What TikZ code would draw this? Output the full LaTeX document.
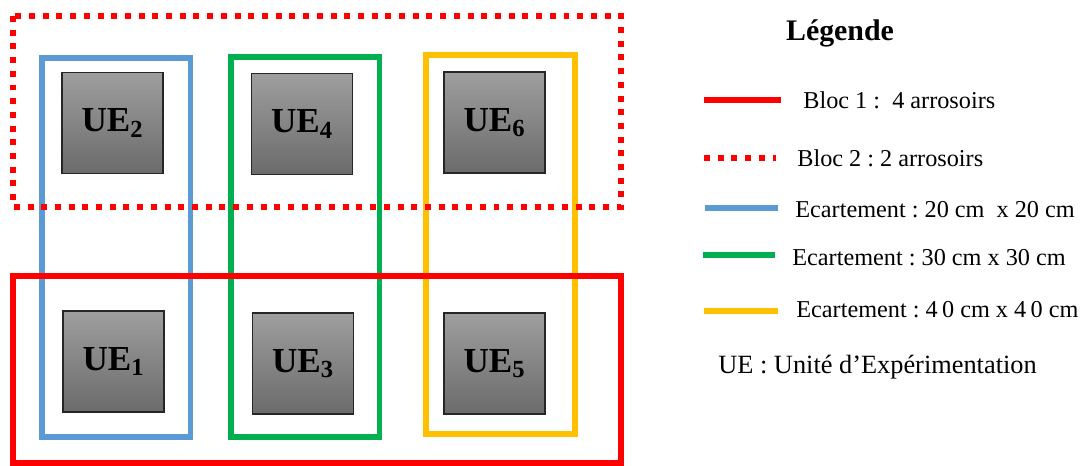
\documentclass[tikz,border=0pt]{standalone}
\usepackage{fontspec}
\setmainfont{Liberation Serif}
\usetikzlibrary{positioning}
\definecolor{rouge}{HTML}{FF0000}
\definecolor{bleu}{HTML}{5B9BD5}
\definecolor{vert}{HTML}{00B050}
\definecolor{jaune}{HTML}{FFC000}
\frenchspacing

\begin{document}
\begin{tikzpicture}[
		x=0.02cm,
		y=-0.02cm,
		ue/.style={draw=black!85,line width=0.8pt,top color=black!38,bottom color=black!58,
			minimum size=2.02cm,inner sep=0pt,font=\fontsize{20}{24}\selectfont\bfseries},
		bloc/.style={draw=rouge,line width=3.4pt},
		bloc dots/.style={bloc,dash pattern=on 3.4pt off 4.4pt},
		ecart/.style={line width=3.4pt},
		leg/.style={anchor=west,inner sep=0pt,font=\fontsize{13.8}{17}\selectfont}]

	\useasboundingbox (0,0) rectangle (1083,466);

	% unites d'experimentation
	\node[ue] (ue2) at (112.5,123) {\raisebox{-3pt}{UE\textsubscript{2}}};
	\node[ue] (ue4) at (302,124) {\raisebox{-3pt}{UE\textsubscript{4}}};
	\node[ue] (ue6) at (494.5,122.5) {\raisebox{-3pt}{UE\textsubscript{6}}};
	\node[ue] (ue1) at (113.5,361.5) {\raisebox{-3pt}{UE\textsubscript{1}}};
	\node[ue] (ue3) at (303,363.5) {\raisebox{-3pt}{UE\textsubscript{3}}};
	\node[ue] (ue5) at (494.5,363.5) {\raisebox{-3pt}{UE\textsubscript{5}}};

	% ecartements
	\draw[ecart,bleu] (42,58) rectangle (190.5,437);
	\draw[ecart,vert] (231,57) rectangle (379.5,437);
	\draw[ecart,jaune] (426,55) rectangle (575,434);

	% blocs
	\draw[bloc dots] (13,16) rectangle (621,207);
	\draw[bloc] (13,276) rectangle (621,463);

	% legende
	\node[font=\fontsize{17}{20}\selectfont\bfseries] (titre) at (840,33) {Légende};

	\draw[bloc] (704,100) -- (781,100);
	\node[leg] (l1) at (803,100) {Bloc 1 :\ \ 4 arrosoirs};
	\draw[bloc dots] (704,158) -- (776,158);
	\node[leg] (l2) at (797,158) {Bloc 2 : 2 arrosoirs};
	\draw[ecart,bleu] (705,208) -- (778,208);
	\node[leg] (l3) at (795,210) {Ecartement : 20 cm\ \ x 20 cm};
	\draw[ecart,vert] (703,255) -- (775,255);
	\node[leg] (l4) at (792,258) {Ecartement : 30 cm x 30 cm};
	\draw[ecart,jaune] (704,311) -- (778,311);
	\node[leg] (l5) at (796,310) {Ecartement : 4\hspace{0.18em}0 cm x 4\hspace{0.18em}0 cm};
	\node[leg,font=\fontsize{15}{18}\selectfont] (l6) at (718,367) {UE : Unité d’Expérimentation};
\end{tikzpicture}
\end{document}
